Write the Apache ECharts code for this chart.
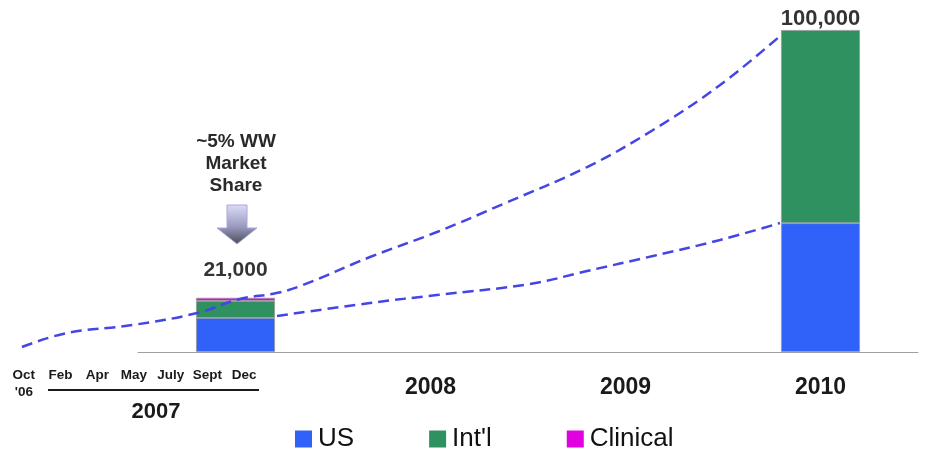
<!DOCTYPE html>
<html>
<head>
<meta charset="utf-8">
<script src="https://cdn.jsdelivr.net/npm/echarts@6/dist/echarts.min.js"></script>
<style>
  html, body { margin: 0; padding: 0; background: #fff; }
  #chart { width: 936px; height: 450px; }
</style>
</head>
<body>
<div id="chart"></div>
<script>
// bars (heights in units; null = no bar)
const years = ['2007', '2008', '2009', '2010'];
const yearLabels = ['', '2008', '2009', '2010'];
const usUnits = [10600, null, null, 40000];
const intlUnits = [5300, null, null, 60000];
const clinicalUnits = [930, null, null, null];
const totalLabels = ['21,000', '', '', '100,000'];

// months under the 2007 band
const months = ['Oct\n\'06', 'Feb', 'Apr', 'May', 'July', 'Sept', 'Dec'];

// dashed trend curves, x in years (band centre = year), y in units
const upperTrend = [
    [2005.905, 1550], [2006.136, 5900], [2006.474, 8400], [2006.803, 12100],
    [2007.023, 16460], [2007.21, 18300], [2007.346, 20800], [2007.69, 29500],
    [2008.033, 37270], [2008.372, 45960], [2008.803, 57450], [2009.141, 68940],
    [2009.485, 82920], [2009.792, 98100]
];
const lowerTrend = [
    [2007.213, 11180], [2007.69, 15220], [2008.033, 17700], [2008.51, 21120],
    [2008.803, 25160], [2009.141, 29810], [2009.485, 34780], [2009.792, 40060]
];

const font = '"Liberation Sans", Arial, sans-serif';
const totals = years.map((_, i) => (usUnits[i] || 0) + (intlUnits[i] || 0) + (clinicalUnits[i] || 0));

// trend grid reaches further left than the bar grid: 133px left of 2006.5, 195px per year
const trendMin = 2006.5 - 133 / 195;

const chart = echarts.init(document.getElementById('chart'));

const barStyle = function (color) {
    return { color: color, borderColor: '#9a9a9a', borderWidth: 0.8 };
};

const trendLine = function (data) {
    return {
        type: 'line',
        xAxisIndex: 3,
        yAxisIndex: 2,
        data: data,
        smooth: 0.4,
        symbol: 'none',
        silent: true,
        z: 5,
        lineStyle: { color: '#4545e6', width: 2.5, type: [11, 6] }
    };
};

chart.setOption({
    animation: false,
    textStyle: { fontFamily: font },
    grid: [
        { left: 138, right: 18, top: 30, bottom: 98 },
        { left: 5.5, width: 257, top: 340, height: 12 },
        { left: 5, right: 18, top: 30, bottom: 98 }
    ],
    xAxis: [
        {
            type: 'category',
            gridIndex: 0,
            data: years,
            axisLine: { lineStyle: { color: '#a0a0a0', width: 1 } },
            axisTick: { length: 6, lineStyle: { color: '#a0a0a0' } },
            axisLabel: {
                formatter: (v, i) => yearLabels[i],
                fontSize: 23,
                fontWeight: 'bold',
                color: '#1a1a1a',
                margin: 24
            }
        },
        { type: 'value', gridIndex: 0, show: false },
        {
            type: 'category',
            gridIndex: 1,
            data: months,
            axisLine: { show: false },
            axisTick: { show: false },
            axisLabel: {
                interval: 0,
                fontSize: 13.5,
                fontWeight: 'bold',
                color: '#1a1a1a',
                lineHeight: 17,
                margin: 15,
                verticalAlign: 'top'
            }
        },
        { type: 'value', gridIndex: 2, min: trendMin, max: 2010.5, show: false }
    ],
    yAxis: [
        { type: 'value', gridIndex: 0, min: 0, max: 100000, show: false },
        { type: 'value', gridIndex: 1, show: false },
        { type: 'value', gridIndex: 2, min: 0, max: 100000, show: false }
    ],
    legend: {
        left: 290,
        top: 421,
        itemWidth: 17,
        itemHeight: 17,
        itemGap: 75,
        icon: 'rect',
        itemStyle: { borderWidth: 0 },
        data: ['US', "Int'l", 'Clinical'],
        textStyle: { fontSize: 26, color: '#111', fontFamily: font, padding: [0, 0, 0, 1] }
    },
    series: [
        {
            name: 'US', type: 'bar', stack: 'total', barWidth: 79,
            data: usUnits, itemStyle: barStyle('#3062fa')
        },
        {
            name: "Int'l", type: 'bar', stack: 'total', barWidth: 79,
            data: intlUnits, itemStyle: barStyle('#2f9060')
        },
        {
            name: 'Clinical', type: 'bar', stack: 'total', barWidth: 79,
            data: clinicalUnits, itemStyle: barStyle('#e000e0')
        },
        {
            type: 'scatter',
            symbolSize: 0,
            silent: true,
            data: totals.map((t, i) => ({
                value: t,
                label: {
                    show: totalLabels[i] !== '',
                    position: 'top',
                    distance: i === 0 ? 17 : 0,
                    fontSize: i === 0 ? 21 : 22,
                    fontWeight: 'bold',
                    color: '#000',
                    formatter: totalLabels[i]
                }
            })),
            z: 6
        },
        trendLine(upperTrend),
        trendLine(lowerTrend)
    ],
    graphic: [
        {
            type: 'text',
            x: 236, y: 131,
            style: {
                text: '~5% WW\nMarket\nShare',
                font: 'bold 19px ' + font,
                lineHeight: 22,
                fill: '#2a2a2a',
                align: 'center',
                verticalAlign: 'top'
            }
        },
        {
            type: 'polygon',
            shape: {
                points: [[227, 205], [247, 205], [247, 228], [257, 228], [237, 244], [217, 228], [227, 228]]
            },
            style: {
                fill: {
                    type: 'linear', x: 0, y: 0, x2: 0, y2: 1,
                    colorStops: [
                        { offset: 0, color: '#dcdcf8' },
                        { offset: 0.55, color: '#9a9ac0' },
                        { offset: 1, color: '#4a4a55' }
                    ]
                },
                stroke: '#a8a8e0',
                lineWidth: 1
            }
        },
        {
            type: 'line',
            shape: { x1: 48, y1: 390, x2: 259, y2: 390 },
            style: { stroke: '#1a1a1a', lineWidth: 2 }
        },
        {
            type: 'text',
            x: 156, y: 412,
            style: {
                text: '2007',
                font: 'bold 22px ' + font,
                fill: '#1a1a1a',
                align: 'center',
                verticalAlign: 'middle'
            }
        }
    ]
});
</script>
</body>
</html>
